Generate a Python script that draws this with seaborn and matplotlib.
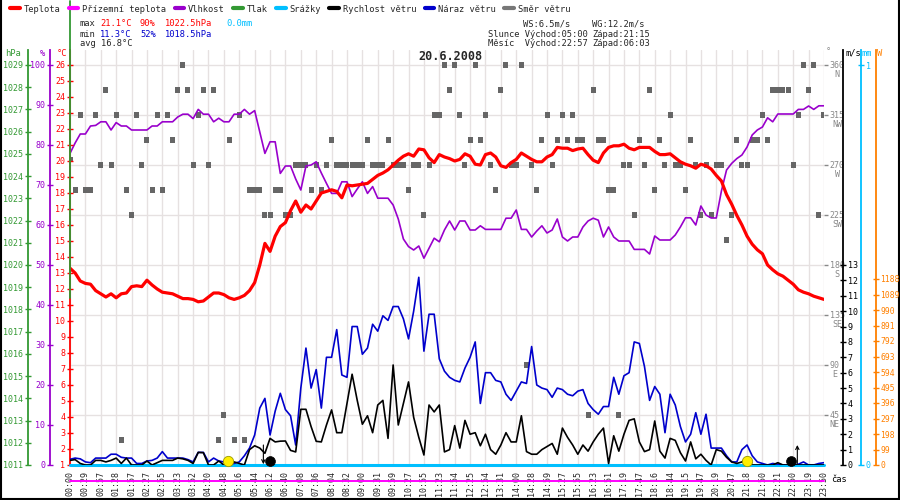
import numpy as np
import pandas as pd
import seaborn as sns
from matplotlib import pyplot as plt
from matplotlib.lines import Line2D
from matplotlib.transforms import ScaledTranslation

sns.set_style("white")
plt.rcParams["font.family"] = ["DejaVu Sans Mono", "DejaVu Sans"]
plt.rcParams["font.size"] = 6

# ---- data (one sample every ~10 min, label every 3rd) ----
time_labels = ["00:00", "00:29", "00:57", "01:28", "01:57", "02:27", "02:55", "03:23", "03:52", "04:20",
               "04:48", "05:16", "05:44", "06:12", "06:40", "07:08", "07:36", "08:04", "08:32", "09:00",
               "09:31", "09:59", "10:27", "10:55", "11:23", "11:54", "12:25", "12:54", "13:31", "14:00",
               "14:28", "14:59", "15:27", "15:55", "16:23", "16:51", "17:19", "17:47", "18:16", "18:44",
               "19:15", "19:47", "20:19", "20:47", "21:18", "21:50", "22:21", "22:50", "23:19", "23:50"]

temperature = [13.3, 13.0, 12.5, 12.35, 12.3, 11.9, 11.7, 11.5, 11.7, 11.45,
               11.7, 11.75, 12.15, 12.2, 12.15, 12.55, 12.25, 12.0, 11.8, 11.75,
               11.7, 11.55, 11.4, 11.4, 11.35, 11.2, 11.25, 11.5, 11.75, 11.75,
               11.65, 11.45, 11.35, 11.45, 11.6, 11.9, 12.4, 13.5, 14.85, 14.35,
               15.3, 15.9, 16.15, 16.9, 17.5, 16.8, 17.25, 17.0, 17.5, 18.0,
               18.1, 18.2, 18.1, 17.7, 18.5, 18.45, 18.5, 18.55, 18.6, 18.85,
               19.1, 19.25, 19.45, 19.75, 20.05, 20.3, 20.45, 20.3, 20.75, 20.7,
               20.2, 19.9, 20.4, 20.25, 20.15, 20.0, 20.1, 20.45, 20.3, 19.8,
               19.75, 20.4, 20.5, 20.25, 19.7, 19.6, 19.9, 20.1, 20.5, 20.3,
               20.1, 19.95, 19.95, 20.25, 20.4, 20.85, 20.8, 20.8, 20.65, 20.75,
               20.8, 20.4, 20.05, 19.9, 20.5, 20.85, 20.95, 20.95, 21.05, 20.8,
               20.7, 20.85, 20.85, 20.85, 20.6, 20.4, 20.4, 20.45, 20.2, 19.95,
               19.8, 19.7, 19.55, 19.8, 19.7, 19.5, 19.1, 18.75, 17.9, 17.3,
               16.6, 16.0, 15.3, 14.8, 14.45, 14.2, 13.5, 13.2, 12.95, 12.8,
               12.55, 12.3, 11.95, 11.8, 11.7, 11.55, 11.45, 11.35]

humidity = [77.9, 80.5, 82.75, 82.75, 84.75, 84.9, 85.8, 85.8, 83.75, 85.6,
            84.75, 84.75, 83.75, 83.75, 83.75, 83.75, 84.75, 84.75, 85.8, 85.8,
            85.8, 87.0, 87.7, 87.7, 86.6, 88.9, 87.7, 87.7, 85.8, 86.7,
            85.8, 85.8, 87.7, 87.7, 88.9, 87.7, 88.6, 83.3, 77.9, 80.8,
            80.8, 72.9, 74.75, 74.75, 71.5, 68.75, 74.75, 75.0, 75.8, 73.0,
            70.4, 67.9, 67.9, 70.8, 70.8, 67.1, 69.0, 70.8, 67.9, 69.6,
            66.7, 66.7, 66.7, 65.0, 61.5, 56.5, 54.6, 53.75, 54.75, 51.7,
            54.2, 56.7, 55.8, 58.75, 61.0, 58.75, 61.0, 61.0, 58.75, 58.75,
            59.8, 58.9, 58.9, 58.9, 58.9, 61.7, 61.7, 63.75, 58.9, 58.9,
            57.0, 58.5, 59.8, 58.0, 58.75, 61.5, 57.0, 56.0, 57.0, 57.0,
            59.5, 61.0, 61.7, 61.2, 57.0, 59.5, 57.0, 56.0, 56.0, 56.0,
            53.9, 53.9, 53.9, 52.75, 57.25, 56.25, 56.25, 56.25, 57.5, 59.5,
            61.8, 61.8, 60.0, 64.75, 62.5, 61.75, 61.75, 68.5, 73.75, 75.4,
            76.6, 77.5, 79.5, 82.5, 83.75, 84.5, 86.8, 85.8, 87.75, 87.75,
            87.75, 87.75, 88.9, 88.9, 89.75, 88.9, 89.8, 89.8]

wind_speed = [0.3, 0.35, 0.1, 0.0, 0.0, 0.3, 0.3, 0.2, 0.3, 0.45,
              0.1, 0.45, 0.0, 0.0, 0.0, 0.26, 0.0, 0.15, 0.3, 0.3,
              0.3, 0.45, 0.4, 0.3, 0.1, 0.82, 0.8, 0.0, 0.0, 0.26,
              0.0, 0.0, 0.2, 0.1, 0.0, 1.0, 1.25, 1.1, 0.76, 1.73,
              1.5, 1.55, 1.56, 0.95, 0.85, 3.62, 3.62, 2.5, 1.54, 1.5,
              2.6, 3.58, 2.1, 2.1, 4.0, 5.9, 4.2, 2.65, 3.2, 2.1,
              3.9, 4.2, 1.73, 6.5, 2.6, 4.0, 5.4, 3.1, 1.8, 0.65,
              3.9, 3.45, 3.9, 0.85, 1.0, 2.56, 1.1, 2.9, 2.0, 2.1,
              1.25, 2.0, 1.0, 0.7, 1.3, 2.1, 1.5, 1.5, 3.2, 0.87,
              0.7, 0.7, 1.0, 1.2, 1.4, 0.7, 2.4, 1.8, 1.3, 0.7,
              1.3, 0.9, 1.5, 2.0, 2.4, 0.1, 1.9, 0.9, 2.0, 2.9,
              3.0, 1.5, 0.87, 1.0, 2.86, 0.9, 0.45, 1.73, 1.6, 0.8,
              0.26, 1.5, 0.4, 0.7, 0.3, 0.0, 1.0, 0.9, 0.5, 0.2,
              0.1, 0.2, 0.5, 0.0, 0.0, 0.0, 0.0, 0.0, 0.15, 0.0,
              0.0, 0.0, 0.0, 0.0, 0.0, 0.0, 0.0, 0.0]

wind_gust = [0.37, 0.45, 0.4, 0.2, 0.15, 0.45, 0.45, 0.45, 0.7, 0.7,
             0.5, 0.45, 0.45, 0.1, 0.1, 0.26, 0.3, 0.45, 0.87, 0.45,
             0.45, 0.45, 0.45, 0.35, 0.2, 0.82, 0.82, 0.2, 0.45, 0.26,
             0.2, 0.1, 0.1, 0.2, 0.6, 1.1, 1.95, 3.7, 4.33, 1.95,
             3.5, 4.66, 3.6, 3.2, 1.3, 5.0, 7.6, 5.0, 6.2, 3.7,
             7.0, 7.0, 8.8, 5.85, 5.7, 9.0, 9.0, 7.2, 7.6, 9.15,
             8.7, 9.7, 9.4, 10.3, 10.3, 9.5, 8.2, 10.0, 12.2, 7.4,
             9.8, 9.8, 6.9, 6.1, 5.7, 5.5, 5.4, 6.3, 7.0, 8.0,
             4.0, 6.0, 6.0, 5.5, 5.4, 4.6, 4.2, 4.8, 5.4, 5.3,
             7.7, 5.2, 5.0, 4.9, 4.4, 5.0, 4.9, 4.6, 4.5, 4.8,
             4.9, 4.0, 3.6, 3.3, 3.8, 3.8, 5.7, 4.6, 5.8, 6.0,
             8.0, 7.9, 6.4, 4.2, 5.1, 4.6, 2.1, 4.6, 3.9, 2.5,
             1.5, 2.0, 3.4, 2.0, 3.3, 1.1, 1.1, 1.1, 0.6, 0.2,
             0.2, 1.0, 1.3, 0.6, 0.2, 0.1, 0.0, 0.1, 0.05, 0.0,
             0.0, 0.0, 0.05, 0.2, 0.0, 0.0, 0.1, 0.15]

wind_dir = [275, 247.5, 315, 247.5, 247.5, 315, 270, 337.5, 270, 315,
            22.5, 247.5, 225, 315, 270, 292.5, 247.5, 315, 247.5, 315,
            292.5, 337.5, 360, 337.5, 270, 315, 337.5, 270, 337.5, 22.5,
            45, 292.5, 22.5, 315, 22.5, 247.5, 247.5, 247.5, 225, 225,
            247.5, 247.5, 225, 225, 270, 270, 270, 247.5, 270, 247.5,
            270, 292.5, 270, 270, 270, 270, 270, 270, 292.5, 270,
            270, 270, 292.5, 270, 270, 270, 247.5, 270, 270, 225,
            270, 315, 315, 360, 337.5, 360, 315, 270, 292.5, 360,
            292.5, 315, 270, 247.5, 337.5, 360, 270, 270, 360, 90,
            270, 247.5, 292.5, 315, 270, 292.5, 315, 292.5, 315, 292.5,
            292.5, 45, 337.5, 292.5, 292.5, 247.5, 247.5, 45, 270, 270,
            225, 292.5, 270, 337.5, 247.5, 292.5, 270, 315, 270, 270,
            247.5, 292.5, 270, 225, 270, 225, 270, 270, 202.5, 225,
            292.5, 270, 270, 292.5, 292.5, 315, 292.5, 337.5, 337.5, 337.5,
            337.5, 270, 315, 360, 337.5, 360, 225, 315]

pressure_trace = [1018.5, 1031.9]   # drawn as a vertical streak at the first sample
ground_temp = 0.0                   # Přízemní teplota (no data -> 0 °C)
rain = 0.0                          # Srážky
sun_idx = [30.9, 131.9]
moon_idx = [39.0, 140.5]
marker_level = [0.28, 0.28]

compass = ["NE", "E", "SE", "S", "SW", "W", "NW", "N"]
dir_ticks = [45, 90, 135, 180, 225, 270, 315, 360]

df = pd.DataFrame({"i": np.arange(len(temperature)), "temp": temperature, "hum": humidity,
                   "ws": wind_speed, "wg": wind_gust, "dir": wind_dir})

c_red, c_mag, c_pur, c_grn = "#ff0000", "#ff00ff", "#9900cc", "#339933"
c_cyan, c_blue, c_gray, c_orng = "#00bfff", "#0000cc", "#666666", "#ff8000"
c_grid = "#e6e1e1"

W, H = 900, 500
PT = 72 / 100  # points per pixel
fig = plt.figure(figsize=(9, 5), dpi=100)
ax = fig.add_axes([70 / W, 35 / H, 754 / W, 415 / H])
ax_h = ax.twinx()
ax_t = ax.twinx()
ax_p = ax.twinx()
ax_mm = ax.twinx()
ax_ws = ax.twinx()
ax_pw = ax.twinx()
for z, a in enumerate([ax, ax_h, ax_t, ax_p, ax_mm, ax_ws, ax_pw]):
    a.set_zorder(z + 1)
    a.patch.set_visible(False)
    for s in a.spines.values():
        s.set_visible(False)


def side(a, which, color, offset_px, spine=True):
    sp = a.spines[which]
    sp.set_visible(spine)
    sp.set_color(color)
    sp.set_linewidth(1.3)
    sp.set_position(("outward", offset_px * PT))
    a.yaxis.set_ticks_position(which)
    a.tick_params(axis="y", colors=color, direction="inout", length=5, width=1, pad=1, labelsize=6)


# wind direction + grid
sns.scatterplot(data=df, x="i", y="dir", ax=ax, marker="s", s=13, color=c_gray,
                edgecolor="none", linewidth=0, legend=False, zorder=3)
ax.set_xlim(0, len(temperature) - 1)
ax.set_ylim(0, 373.5)
ax.set_xticks(np.arange(0, len(temperature), 3), time_labels, rotation=90)
ax.set_yticks(dir_ticks, [f"{d}\n{c}" for d, c in zip(dir_ticks, compass)])
ax.grid(True, color=c_grid, linewidth=1)
ax.set_axisbelow(True)
side(ax, "right", "#888888", 0, spine=False)
ax.tick_params(axis="y", length=3, direction="out")
ax.tick_params(axis="x", length=3, color=c_grid, labelsize=6, pad=1)
for lab in ax.get_yticklabels():
    lab.set_verticalalignment("top")
    lab.set_multialignment("center")
    lab.set_linespacing(0.95)
    lab.set_transform(lab.get_transform() + ScaledTranslation(0, 4 / 100, fig.dpi_scale_trans))
ax.set_xlabel("")
ax.set_ylabel("")

# humidity
sns.lineplot(data=df, x="i", y="hum", ax=ax_h, color=c_pur, linewidth=1.2)
ax_h.set_ylim(0, 103.75)
ax_h.set_yticks(range(0, 101, 10))
side(ax_h, "left", c_pur, 20)

# temperature + ground temperature
sns.lineplot(data=df, x="i", y="temp", ax=ax_t, color=c_red, linewidth=2.3)
ax_t.axhline(ground_temp, color=c_mag, linewidth=1.4, clip_on=False)
ax_t.set_ylim(1, 1 + 415 / 16)
ax_t.set_yticks(range(1, 27))
side(ax_t, "left", c_red, 0)

# pressure
ax_p.plot([0, 0], pressure_trace, color=c_grn, linewidth=1.3, clip_on=False)
ax_p.set_ylim(1011, 1011 + 415 * 18 / 400)
ax_p.set_yticks(range(1011, 1030))
side(ax_p, "left", c_grn, 42)

# rain
ax_mm.axhline(rain, color=c_cyan, linewidth=2.2, clip_on=False)
ax_mm.set_ylim(0, 415 / 400)
ax_mm.set_yticks([0, 1])
side(ax_mm, "right", c_cyan, 37)

# wind speed and gust
sns.lineplot(data=df, x="i", y="wg", ax=ax_ws, color=c_blue, linewidth=1.2)
sns.lineplot(data=df, x="i", y="ws", ax=ax_ws, color="black", linewidth=1.2)
sns.scatterplot(x=sun_idx, y=marker_level, ax=ax_ws, s=55, color="#ffee00",
                edgecolor="#999900", linewidth=0.6, zorder=5, clip_on=False)
sns.scatterplot(x=moon_idx, y=marker_level, ax=ax_ws, s=50, color="black",
                edgecolor="black", linewidth=0.5, zorder=5, clip_on=False)
ax_ws.annotate("", xy=(37.7, 0.05), xytext=(37.7, 1.3),
               arrowprops=dict(arrowstyle="->", lw=0.8, color="black", shrinkA=0, shrinkB=0))
ax_ws.annotate("", xy=(141.8, 1.3), xytext=(141.8, 0.1),
               arrowprops=dict(arrowstyle="->", lw=0.8, color="black", shrinkA=0, shrinkB=0))
ax_ws.set_ylim(0, 415 / 200 * 13)
ax_ws.set_yticks(range(0, 14))
side(ax_ws, "right", "black", 19)

# solar power axis (no data)
ax_pw.set_ylim(0, 1188 * 415 / 186)
ax_pw.set_yticks(range(0, 1189, 99))
side(ax_pw, "right", c_orng, 52)
ax_pw.tick_params(axis="y", labelsize=5.8, pad=0.5)

for a in [ax_h, ax_t, ax_p, ax_mm, ax_ws, ax_pw]:
    a.set_xlabel("")
    a.set_ylabel("")


def ftext(x, y, s, **kw):
    fig.text(x / W, 1 - y / H, s, va="center", fontsize=kw.pop("fontsize", 6.3), **kw)


# axis unit labels
ftext(5, 53, "hPa", color=c_grn)
ftext(40, 53, "%", color=c_pur)
ftext(57, 53, "°C", color=c_red)
ftext(826, 52, "°", color="#888888")
ftext(845, 53, "m/s", color="black")
ftext(862, 53, "mm", color=c_cyan)
ftext(877, 53, "W", color=c_orng)
ftext(831, 479, "čas", color="black")

# legend row
handles = [Line2D([], [], color=c, lw=3) for c in [c_red, c_mag, c_pur, c_grn, c_cyan, "black", c_blue, "#777777"]]
labels = ["Teplota", "Přízemní teplota", "Vlhkost", "Tlak", "Srážky", "Rychlost větru", "Náraz větru", "Směr větru"]
fig.legend(handles, labels, loc="center left", bbox_to_anchor=(10 / W, 1 - 9 / H), ncol=8, frameon=False,
           fontsize=6.3, handlelength=1.1, handletextpad=0.45, columnspacing=0.95, borderpad=0, borderaxespad=0)

# statistics
ftext(80, 24, "max")
ftext(100, 24, "21.1°C", color=c_red)
ftext(140, 24, "90%", color=c_red)
ftext(165, 24, "1022.5hPa", color=c_red)
ftext(226, 24, "0.0mm", color=c_cyan)
ftext(80, 34, "min")
ftext(100, 34, "11.3°C", color=c_blue)
ftext(140, 34, "52%", color=c_blue)
ftext(165, 34, "1018.5hPa", color=c_blue)
ftext(80, 44, "avg 16.8°C")
ftext(523, 24, "WS:6.5m/s")
ftext(592, 24, "WG:12.2m/s")
ftext(488, 34, "Slunce Východ:05:00")
ftext(592, 34, "Západ:21:15")
ftext(488, 44, "Měsíc  Východ:22:57")
ftext(592, 44, "Západ:06:03")
fig.text(0.5, 1 - 57 / H, "20.6.2008", ha="center", va="center", fontsize=8.5, fontweight="bold")

# image frame
for xs, ys in [([0.5 / W, 0.5 / W], [0, 1]), ([1 - 1 / W, 1 - 1 / W], [0, 1]), ([0, 1], [1 / H, 1 / H])]:
    fig.add_artist(Line2D(xs, ys, color="black", lw=1.5, transform=fig.transFigure))

fig.savefig("out.png", dpi=100)
